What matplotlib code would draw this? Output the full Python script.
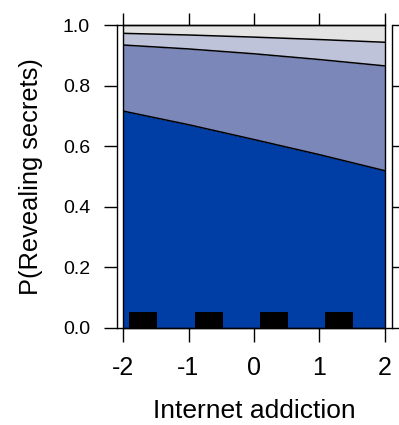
import matplotlib
matplotlib.use("Agg")
import matplotlib.pyplot as plt
from matplotlib.lines import Line2D
from matplotlib.patches import Rectangle

plt.rcParams['font.family'] = ['Liberation Sans', 'DejaVu Sans']

# data
x_vals = [-2, -1, 0, 1, 2]
cum1 = [0.716, 0.671, 0.622, 0.572, 0.519]   # boundary between level 1 and 2
cum2 = [0.934, 0.921, 0.905, 0.886, 0.865]   # boundary between level 2 and 3
cum3 = [0.9725, 0.967, 0.960, 0.952, 0.943]  # boundary between level 3 and 4
rug_centers = [-1.70, -0.69, 0.30, 1.30]
rug_width = 0.43
rug_height = 0.053
x_ticks = [-2, -1, 0, 1, 2]
y_ticks = [0.0, 0.2, 0.4, 0.6, 0.8, 1.0]
y_ticklabels = ["0.0", "0.2", "0.4", "0.6", "0.8", "1.0"]
xlabel = "Internet addiction"
ylabel = "P(Revealing secrets)"
colors = ["#003DA5", "#7B86B9", "#BEC3D9", "#E3E3E3"]

W, H = 399, 425
fig = plt.figure(figsize=(W / 100, H / 100), dpi=100)
L, R, T, B = 123, 385, 25, 328
ax = fig.add_axes([L / W, 1 - B / H, (R - L) / W, (B - T) / H])

px = 72 / 100  # points per pixel

top = [1.0] * len(x_vals)
zero = [0.0] * len(x_vals)
ax.fill_between(x_vals, zero, cum1, color=colors[0], lw=0)
ax.fill_between(x_vals, cum1, cum2, color=colors[1], lw=0)
ax.fill_between(x_vals, cum2, cum3, color=colors[2], lw=0)
ax.fill_between(x_vals, cum3, top, color=colors[3], lw=0)
for c in (cum1, cum2, cum3):
    ax.plot(x_vals, c, color="black", lw=1.1)

ax.bar(rug_centers, [rug_height] * len(rug_centers), width=rug_width,
       bottom=0, color="black", lw=0)

ax.set_xlim(-2, 2)
ax.set_ylim(0, 1)

lw = 1.0
for s in ax.spines.values():
    s.set_linewidth(lw)
ax.spines['left'].set_position(('outward', 6 * px))
ax.spines['right'].set_position(('outward', 7 * px))

ax.add_patch(Rectangle((0, 0), 1, 1, transform=ax.transAxes, fill=False,
                       ec="black", lw=lw, clip_on=False, zorder=5))

ax.set_xticks(x_ticks)
ax.set_xticklabels([str(v) for v in x_ticks])
ax.set_yticks(y_ticks)
ax.set_yticklabels(y_ticklabels)
ax.tick_params(axis='x', which='both', direction='out', length=14 * px,
               width=lw, labelsize=18, pad=10, top=True, labeltop=False)
ax.tick_params(axis='y', which='both', direction='out', length=13 * px,
               width=lw, labelsize=14, pad=10, right=True, labelright=False)
for t in ax.xaxis.get_major_ticks():
    t.tick2line.set_markersize(12 * px)
for t in ax.yaxis.get_major_ticks():
    t.tick2line.set_markersize(7 * px)

# small connecting segments at y=0 and y=1 (between offset axis lines and panel)
pw = R - L
for yv in (0.0, 1.0):
    ax.add_line(Line2D([-6 / pw, 0], [yv, yv], transform=ax.transAxes,
                       color="black", lw=lw, clip_on=False))
ax.add_line(Line2D([1, 1 + 7 / pw], [0, 0], transform=ax.transAxes,
                   color="black", lw=lw, clip_on=False))

ax.set_xlabel(xlabel, fontsize=19, labelpad=14)
ax.set_ylabel(ylabel, fontsize=18.3, labelpad=14)

fig.savefig("out.png", dpi=100, facecolor="white")
